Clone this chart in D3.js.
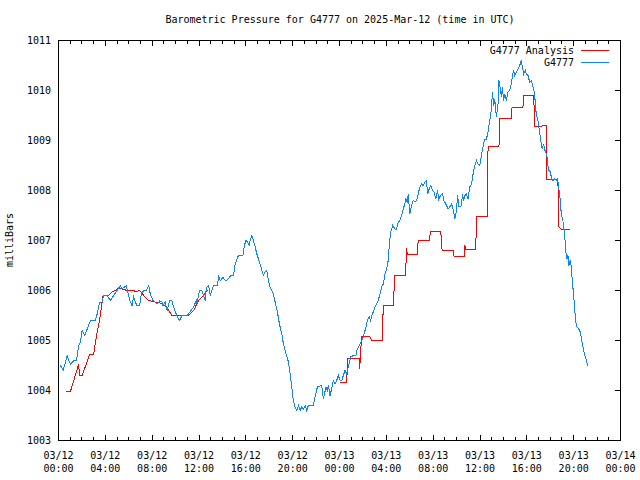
<!DOCTYPE html>
<html><head><meta charset="utf-8">
<script src="https://cdn.jsdelivr.net/npm/d3@7"></script>
<style>
body{margin:0;background:#fff}
text{font-family:"DejaVu Sans Mono","Liberation Mono",monospace;font-size:10px;fill:#000}
</style>
</head><body><svg id="c" width="640" height="480"></svg>
<script>
const chartTitle = "Barometric Pressure for G4777 on 2025-Mar-12 (time in UTC)";
const yAxisLabel = "milliBars";
const seriesNames = ["G4777 Analysis", "G4777"];
const seriesColors = ["#ff0000", "#0a84ff"];
const startTime = "2025-03-12T00:00:00Z";
const endTime = "2025-03-14T00:00:00Z";
const yTickValues = [1003, 1004, 1005, 1006, 1007, 1008, 1009, 1010, 1011];

// [hours since 2025-03-12 00:00 UTC, pressure mb]
const analysisPoints = [
[0.68,1003.98],[1.02,1003.98],[1.65,1004.47],[1.71,1004.5],[1.82,1004.3],[2.02,1004.3],[2.67,1004.73],[3.01,1004.73],[3.15,1004.97],[3.52,1005.43],[3.81,1005.9],[4.29,1005.9],[4.58,1005.97],[4.86,1006.0],[5.14,1006.05],[5.86,1006.0],[6.42,1006.0],[6.65,1005.97],[6.85,1006.0],[6.99,1005.99],[7.28,1005.9],[7.70,1005.8],[8.27,1005.77],[8.55,1005.77],[8.84,1005.73],[9.21,1005.67],[9.41,1005.6],[9.69,1005.5],[10.97,1005.5],[11.11,1005.5],[11.54,1005.6],[11.96,1005.8],[12.39,1005.9],[12.68,1006.0],[12.79,1006.0],
null,
[24.04,1004.17],[24.47,1004.15],[24.61,1004.17],[24.72,1004.65],[25.69,1004.65],[25.73,1004.43],[25.77,1004.65],[25.89,1005.08],[26.60,1005.08],[26.75,1005.0],[27.65,1005.0],[27.74,1005.71],[28.59,1005.71],[28.73,1006.3],[29.64,1006.3],[29.73,1006.85],[29.78,1006.73],[30.63,1006.73],[30.72,1007.0],[31.66,1007.0],[31.77,1007.18],[32.65,1007.18],[32.76,1006.81],[33.70,1006.81],[33.79,1006.68],[34.64,1006.68],[34.70,1006.9],[34.78,1006.83],[35.64,1006.83],[35.70,1007.48],[36.60,1007.48],[36.69,1008.89],[37.62,1008.89],[37.71,1009.45],[38.68,1009.45],[38.74,1009.67],[39.67,1009.67],[39.73,1009.9],[40.58,1009.9],[40.69,1009.28],[41.26,1009.28],[41.32,1009.3],[41.67,1009.3],[41.72,1008.23],[42.65,1008.23],[42.74,1007.27],[42.94,1007.22],[43.71,1007.22]
];

const stationPoints = [
[0.17,1004.5],[0.40,1004.4],[0.74,1004.7],[1.02,1004.52],[1.31,1004.6],[1.53,1004.6],[1.73,1004.9],[1.88,1004.97],[2.02,1005.2],[2.25,1005.1],[2.45,1005.23],[2.73,1005.4],[3.15,1005.4],[3.30,1005.53],[3.52,1005.77],[3.72,1005.77],[3.86,1005.9],[4.15,1005.9],[4.43,1005.8],[4.72,1005.9],[5.00,1006.0],[5.29,1006.1],[5.43,1006.03],[5.63,1006.07],[5.80,1006.1],[5.91,1005.97],[6.14,1005.77],[6.28,1005.7],[6.42,1005.87],[6.56,1005.77],[6.71,1005.7],[6.93,1005.7],[7.08,1005.93],[7.28,1006.0],[7.50,1006.0],[7.70,1006.1],[7.84,1005.93],[8.07,1005.8],[8.27,1005.77],[8.41,1005.73],[8.64,1005.79],[8.84,1005.77],[8.92,1005.7],[9.12,1005.77],[9.27,1005.6],[9.49,1005.8],[9.69,1005.8],[9.83,1005.67],[9.98,1005.57],[10.17,1005.47],[10.34,1005.4],[10.55,1005.5],[10.97,1005.5],[11.11,1005.53],[11.31,1005.6],[11.54,1005.67],[11.77,1005.8],[11.82,1005.73],[12.05,1006.0],[12.25,1006.0],[12.39,1005.9],[12.53,1005.8],[12.60,1006.0],[12.68,1006.07],[12.82,1006.1],[12.96,1005.9],[13.10,1006.0],[13.24,1006.1],[13.58,1006.1],[13.67,1006.3],[13.80,1006.2],
[13.87,1006.2],[14.04,1006.27],[14.24,1006.2],[14.38,1006.2],[14.61,1006.27],[14.72,1006.3],[14.95,1006.3],[15.09,1006.53],[15.24,1006.63],[15.37,1006.7],[15.75,1006.7],[15.88,1006.9],[16.00,1007.0],[16.14,1006.97],[16.28,1006.9],[16.37,1007.0],[16.51,1007.1],[16.65,1007.0],[16.80,1006.87],[16.94,1006.73],[17.08,1006.63],[17.22,1006.53],[17.37,1006.4],[17.50,1006.3],[17.65,1006.37],[17.79,1006.4],[17.93,1006.2],[18.07,1006.07],[18.22,1006.0],[18.36,1005.93],[18.50,1005.77],[18.70,1005.57],[18.87,1005.33],[19.07,1005.13],[19.21,1004.93],[19.44,1004.73],[19.64,1004.57],[19.78,1004.33],[19.92,1004.07],[20.06,1003.8],[20.20,1003.67],[20.35,1003.6],[20.49,1003.7],[20.63,1003.6],[20.78,1003.67],[20.92,1003.63],[21.06,1003.7],[21.20,1003.6],[21.34,1003.7],[21.77,1003.7],[21.91,1003.87],[22.11,1004.07],[22.48,1004.1],[22.62,1003.83],[22.85,1004.07],[22.96,1004.0],[23.05,1004.1],[23.19,1003.9],[23.33,1004.03],[23.47,1004.2],[23.62,1004.13],[23.76,1004.2],[23.90,1004.3],
[24.05,1004.2],[24.19,1004.2],[24.33,1004.3],[24.47,1004.4],[24.61,1004.33],[24.75,1004.47],[24.95,1004.67],[25.18,1004.7],[25.41,1004.7],[25.52,1004.83],[25.69,1004.9],[25.89,1005.0],[26.03,1005.07],[26.26,1005.27],[26.37,1005.4],[26.54,1005.47],[26.66,1005.4],[26.75,1005.5],[26.88,1005.57],[27.03,1005.67],[27.17,1005.73],[27.31,1005.8],[27.45,1005.93],[27.60,1006.07],[27.74,1006.13],[27.88,1006.33],[28.02,1006.43],[28.16,1006.6],[28.25,1006.9],[28.37,1007.17],[28.54,1007.3],[28.73,1007.23],[28.88,1007.23],[29.02,1007.37],[29.16,1007.4],[29.30,1007.5],[29.44,1007.63],[29.58,1007.73],[29.67,1007.83],[29.78,1007.77],[29.87,1007.93],[30.01,1007.53],[30.16,1007.7],[30.29,1007.8],[30.44,1007.77],[30.58,1007.8],[30.72,1007.93],[30.86,1008.07],[31.01,1008.13],[31.14,1008.1],[31.29,1008.17],[31.43,1008.2],[31.52,1007.93],[31.66,1008.03],[31.80,1008.1],[31.95,1008.0],[32.08,1007.97],[32.23,1007.83],[32.37,1008.0],[32.48,1007.83],[32.63,1007.9],[32.80,1007.93],[32.91,1007.8],[33.08,1007.73],[33.28,1007.63],[33.42,1007.67],[33.57,1007.73],[33.70,1007.63],[33.85,1007.43],[33.99,1007.6],[34.08,1007.9],[34.21,1007.67],
[34.42,1007.7],[34.50,1007.93],[34.61,1007.8],[34.70,1007.9],[34.84,1007.93],[34.98,1007.83],[35.13,1008.07],[35.27,1008.13],[35.41,1008.33],[35.55,1008.5],[35.70,1008.6],[35.83,1008.53],[35.98,1008.5],[36.12,1008.7],[36.26,1008.87],[36.40,1009.03],[36.55,1009.03],[36.69,1009.17],[36.83,1009.4],[36.98,1009.63],[37.06,1009.97],[37.17,1009.7],[37.26,1009.83],[37.40,1009.47],[37.54,1009.73],[37.62,1010.2],[37.74,1010.03],[37.83,1009.87],[37.91,1010.07],[38.02,1009.8],[38.11,1009.93],[38.25,1009.8],[38.39,1009.97],[38.54,1010.0],[38.68,1010.13],[38.77,1010.3],[38.88,1010.4],[38.96,1010.3],[39.11,1010.37],[39.25,1010.43],[39.39,1010.5],[39.53,1010.61],[39.62,1010.47],[39.73,1010.33],[39.87,1010.4],[39.96,1010.33],[40.10,1010.3],[40.24,1010.17],[40.39,1010.2],[40.52,1010.07],[40.67,1009.93],[40.75,1009.63],[40.86,1009.47],[40.98,1009.37],[41.09,1009.17],[41.24,1008.93],[41.32,1008.83],[41.43,1008.93],[41.55,1008.8],[41.67,1008.73],[41.72,1008.67],[41.80,1008.5],[41.89,1008.4],[42.01,1008.37],[42.12,1008.23],[42.23,1008.2],[42.37,1008.23],[42.52,1008.2],[42.60,1008.23],[42.69,1008.13],
[42.86,1007.8],[42.94,1007.53],[43.08,1007.4],[43.17,1007.23],[43.25,1007.07],[43.31,1006.8],[43.42,1006.63],[43.51,1006.7],[43.59,1006.5],[43.71,1006.6],[43.80,1006.47],[43.88,1006.2],[43.99,1005.93],[44.08,1005.67],[44.16,1005.4],[44.27,1005.27],[44.44,1005.23],[44.56,1005.17],[44.67,1005.03],[44.79,1004.87],[44.93,1004.73],[45.08,1004.6],[45.21,1004.5]
];

const svg = d3.select("#c");
const t0 = new Date(startTime), t1 = new Date(endTime);
const toDate = h => new Date(t0.getTime() + h * 3600e3);

const x = d3.scaleUtc().domain([t0, t1]).range([58.5, 620.5]);
const y = d3.scaleLinear().domain([1003, 1011]).range([440.5, 40.5]);

svg.append("text").attr("x", 340).attr("y", 23).attr("text-anchor", "middle").text(chartTitle);
svg.append("text").attr("transform", "translate(13,240) rotate(-90)").attr("text-anchor", "middle").text(yAxisLabel);

const minorTicks = d3.utcHour.every(1).range(t0, t1);
const majorTicks = d3.utcHour.every(4).range(t0, d3.utcHour.offset(t1, 1));
const tickG = svg.append("g").attr("stroke", "#000").attr("stroke-width", 1).attr("shape-rendering", "crispEdges");
minorTicks.forEach(d => {
  tickG.append("line").attr("x1", x(d)).attr("x2", x(d)).attr("y1", 440).attr("y2", 437);
  tickG.append("line").attr("x1", x(d)).attr("x2", x(d)).attr("y1", 41).attr("y2", 44);
});
majorTicks.forEach(d => {
  tickG.append("line").attr("x1", x(d)).attr("x2", x(d)).attr("y1", 440).attr("y2", 435);
  tickG.append("line").attr("x1", x(d)).attr("x2", x(d)).attr("y1", 41).attr("y2", 46);
});
const fmtDate = d3.utcFormat("%m/%d"), fmtTime = d3.utcFormat("%H:%M");
majorTicks.forEach(d => {
  svg.append("text").attr("x", x(d)).attr("y", 459).attr("text-anchor", "middle").text(fmtDate(d));
  svg.append("text").attr("x", x(d)).attr("y", 472).attr("text-anchor", "middle").text(fmtTime(d));
});
yTickValues.forEach(v => {
  tickG.append("line").attr("x1", 620).attr("x2", 615).attr("y1", y(v)).attr("y2", y(v));
  svg.append("text").attr("x", 51).attr("y", y(v) + 3.5).attr("text-anchor", "end").text(v);
});

svg.append("rect").attr("x", 58.5).attr("y", 40.5).attr("width", 562).attr("height", 400)
  .attr("fill", "none").attr("stroke", "#000").attr("shape-rendering", "crispEdges");

const line = d3.line().defined(d => d !== null).x(d => x(toDate(d[0]))).y(d => y(d[1]));

svg.append("path").datum(analysisPoints).attr("d", line)
  .attr("fill", "none").attr("stroke", seriesColors[0]).attr("stroke-width", 1)
  .attr("shape-rendering", "crispEdges");
svg.append("path").datum(stationPoints).attr("d", line)
  .attr("fill", "none").attr("stroke", seriesColors[1]).attr("stroke-width", 1)
  .attr("shape-rendering", "crispEdges");

seriesNames.forEach((n, i) => {
  const ly = 50 + i * 12;
  svg.append("text").attr("x", 574).attr("y", ly + 3.5).attr("text-anchor", "end").text(n);
  svg.append("line").attr("x1", 581).attr("x2", 609).attr("y1", ly + 0.5).attr("y2", ly + 0.5)
    .attr("stroke", seriesColors[i]).attr("stroke-width", 1).attr("shape-rendering", "crispEdges");
});
</script>
</body></html>
